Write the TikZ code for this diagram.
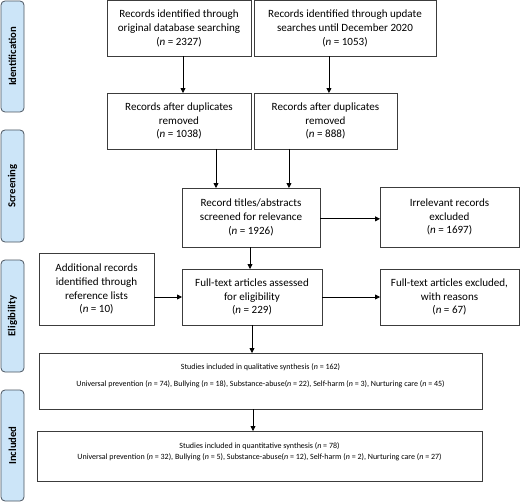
\documentclass[tikz,border=0pt]{standalone}
\usepackage{fontspec}
\setmainfont{Carlito}
\usetikzlibrary{arrows.meta,calc}
\definecolor{boxline}{HTML}{3C3C3C}
\definecolor{sidefill}{HTML}{CCE5F8}
\definecolor{sideline}{HTML}{4A5560}
\tikzset{
  box/.style={draw=boxline, line width=0.6pt, rectangle, inner sep=1pt, outer sep=0pt, align=center,
    font=\fontsize{8.3}{10.4}\selectfont},
  side/.style={draw=sideline, fill=sidefill, line width=0.6pt, rounded corners=3pt, inner sep=0pt, outer sep=0pt,
    minimum width=17.25pt},
  sidetext/.style={rotate=90, font=\bfseries\fontsize{8}{9.6}\selectfont},
  smalltext/.style={align=center, inner sep=0pt},
  arr/.style={draw=black, line width=0.6pt, -{Triangle[length=3.6pt,width=3.6pt]}},
  plain/.style={draw=black, line width=0.6pt}
}
\begin{document}
\begin{tikzpicture}[x=0.75pt,y=-0.75pt]
\useasboundingbox (0,0) rectangle (520,502);
% side labels
\node[side, minimum height=83.25pt] (s1) at (12.5,56.5) {};
\node[sidetext] (s1t) at (s1) {Identification};
\node[side, minimum height=84pt] (s2) at (12.5,186) {};
\node[sidetext] (s2t) at (s2) {Screening};
\node[side, minimum height=84pt] (s3) at (12.5,316) {};
\node[sidetext] (s3t) at (s3) {Eligibility};
\node[side, minimum height=83.25pt] (s4) at (12.5,445.5) {};
\node[sidetext] (s4t) at (s4) {Included};
% boxes
\node[box, minimum width=108pt, minimum height=42pt] (A) at (179,28.5)
  {Records identified through\\original database searching\\(\textit{n} = 2327)};
\node[box, minimum width=136.5pt, minimum height=42pt] (B) at (345,28.5)
  {Records identified through update\\searches until December 2020\\(\textit{n} = 1053)};
\node[box, minimum width=108pt, minimum height=42pt] (C) at (179,121)
  {Records after duplicates\\removed\\(\textit{n} = 1038)};
\node[box, minimum width=107.25pt, minimum height=42pt] (D) at (325.5,121)
  {Records after duplicates\\removed\\(\textit{n} = 888)};
\node[box, minimum width=103.5pt, minimum height=44.25pt] (E) at (251,217.5)
  {Record titles/abstracts\\screened for relevance\\(\textit{n} = 1926)};
\node[box, minimum width=104.25pt, minimum height=45pt] (F) at (449.5,217)
  {Irrelevant records\\excluded\\(\textit{n} = 1697)};
\node[box, minimum width=86.25pt, minimum height=54pt] (G) at (96.5,289)
  {Additional records\\identified through\\reference lists\\(\textit{n} = 10)};
\node[box, minimum width=105pt, minimum height=42pt] (H) at (252,297)
  {Full-text articles assessed\\for eligibility\\(\textit{n} = 229)};
\node[box, minimum width=104.25pt, minimum height=42pt] (I) at (449.5,297)
  {Full-text articles excluded,\\with reasons\\(\textit{n} = 67)};
\node[box, minimum width=332.25pt, minimum height=42pt] (J) at (260.5,381) {};
\node[smalltext, font=\fontsize{6}{12.75}\selectfont] (Jt) at (260.5,375.5)
  {Studies included in qualitative synthesis (\textit{n} = 162)\\Universal prevention (\textit{n} = 74), Bullying (\textit{n} = 18), Substance-abuse(\textit{n} = 22), Self-harm (\textit{n} = 3), Nurturing care (\textit{n} = 45)};
\node[box, minimum width=333.75pt, minimum height=37.5pt] (K) at (259.5,456) {};
\node[smalltext, font=\fontsize{6}{8.25}\selectfont] (Kt) at (259.5,451.5)
  {Studies included in quantitative synthesis (\textit{n} = 78)\\Universal prevention (\textit{n} = 32), Bullying (\textit{n} = 5), Substance-abuse(\textit{n} = 12), Self-harm (\textit{n} = 2), Nurturing care (\textit{n} = 27)};
% connectors
\draw[arr] ([xshift=3pt]A.south) -- ([xshift=3pt]C.north);
\draw[arr] ([xshift=2.6pt]D.north |- B.south) -- ([xshift=2.6pt]D.north);
\draw[arr] ([xshift=27.75pt]C.south) -- ([xshift=27.75pt]C.south |- E.north);
\draw[arr] ([xshift=-27.4pt]D.south) -- ([xshift=-27.4pt]D.south |- E.north);
\draw[arr] ([yshift=-1pt]E.east) -- ([yshift=-1pt]E.east -| F.west);
\draw[arr] ([xshift=-0.75pt]E.south) -- ([xshift=-0.75pt]E.south |- H.north);
\draw[arr] (G.east |- H.west) -- (H.west);
\draw[arr] (H.east) -- (I.west);
\draw[arr] (H.south) -- (H.south |- J.north);
\draw[arr] ([xshift=0.75pt]H.south |- J.south) -- ([xshift=0.75pt]H.south |- K.north);
\end{tikzpicture}
\end{document}
